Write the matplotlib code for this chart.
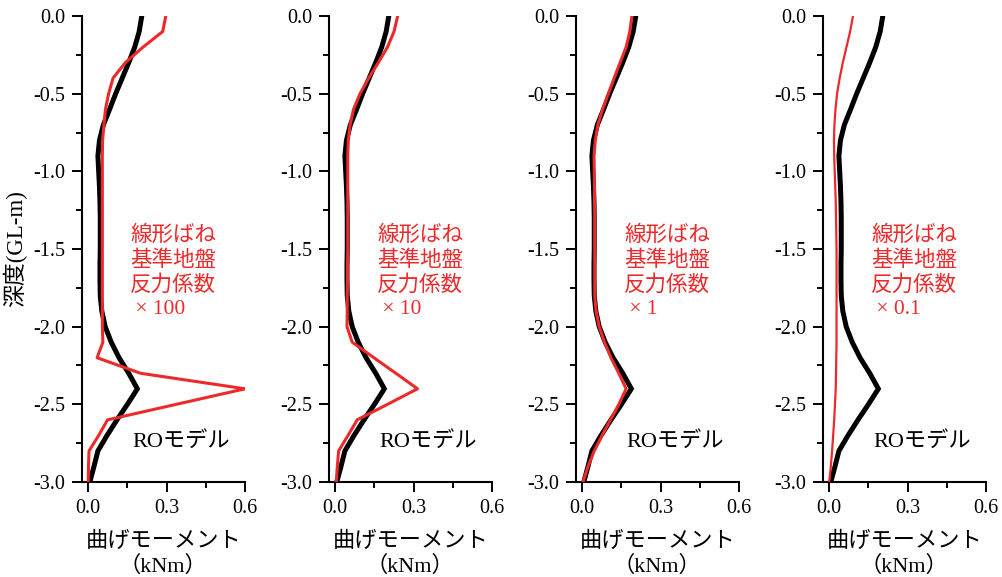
import matplotlib
matplotlib.use('Agg')
import matplotlib.pyplot as plt
from matplotlib.ticker import MultipleLocator, FormatStrFormatter

plt.rcParams['font.family'] = ['Liberation Serif', 'Noto Sans CJK JP']
plt.rcParams['axes.unicode_minus'] = False

# ---- data ----
depth = [0.0, -0.1, -0.2, -0.3, -0.4, -0.5, -0.6, -0.7, -0.8, -0.9,
         -1.0, -1.1, -1.2, -1.3, -1.4, -1.5, -1.6, -1.7, -1.8, -1.9,
         -2.0, -2.1, -2.2, -2.3, -2.4, -2.5, -2.6, -2.7, -2.8, -2.9, -3.0]

ro_model = [0.205, 0.195, 0.178, 0.155, 0.130, 0.105, 0.082, 0.058, 0.043, 0.037,
            0.040, 0.043, 0.045, 0.046, 0.046, 0.046, 0.045, 0.045, 0.046, 0.052,
            0.065, 0.088, 0.118, 0.155, 0.188, 0.150, 0.110, 0.072, 0.037, 0.022, 0.006]

linear_x100 = [0.297, 0.285, 0.210, 0.142, 0.095, 0.078, 0.066, 0.060, 0.055, 0.054,
               0.054, 0.054, 0.054, 0.054, 0.054, 0.054, 0.054, 0.054, 0.054, 0.054,
               0.054, 0.056, 0.034, 0.200, 0.600, 0.337, 0.074, 0.040, 0.003, 0.001, 0.000]

linear_x10 = [0.239, 0.225, 0.200, 0.165, 0.128, 0.095, 0.070, 0.057, 0.050, 0.048,
              0.048, 0.048, 0.048, 0.048, 0.048, 0.048, 0.047, 0.047, 0.046, 0.046,
              0.045, 0.065, 0.148, 0.232, 0.315, 0.200, 0.084, 0.049, 0.013, 0.008, 0.004]

linear_x1 = [0.190, 0.182, 0.168, 0.145, 0.122, 0.100, 0.078, 0.060, 0.050, 0.045,
             0.046, 0.047, 0.047, 0.048, 0.048, 0.048, 0.048, 0.048, 0.048, 0.053,
             0.065, 0.085, 0.110, 0.140, 0.168, 0.140, 0.108, 0.076, 0.046, 0.022, 0.003]

linear_x01 = [0.091, 0.080, 0.066, 0.052, 0.040, 0.030, 0.024, 0.020, 0.018, 0.019,
              0.021, 0.023, 0.025, 0.026, 0.027, 0.028, 0.028, 0.028, 0.028, 0.028,
              0.028, 0.028, 0.027, 0.026, 0.025, 0.022, 0.019, 0.015, 0.011, 0.006, 0.000]

linear_series = [linear_x100, linear_x10, linear_x1, linear_x01]
factors = [' × 100', ' × 10', ' × 1', ' × 0.1']

ro_label = 'ROモデル'
linear_label = '線形ばね\n基準地盤\n反力係数\n'
xlabel = '曲げモーメント\n（kNm）'
ylabel = '深度(GL-m)'

xticks = [0.0, 0.3, 0.6]
yticks = [0.0, -0.5, -1.0, -1.5, -2.0, -2.5, -3.0]

# ---- figure ----
W, H = 1002, 577
fig = plt.figure(figsize=(W / 100, H / 100), dpi=100)

red = '#ec2a2b'
ax_w = 163.3 / W
ax_b = 1 - 482 / H
ax_h = (482 - 16) / H
red_lw = [2.2, 2.2, 2.2, 1.6]

for i, lin in enumerate(linear_series):
    left = (81.7 + 247 * i) / W
    ax = fig.add_axes([left, ax_b, ax_w, ax_h])
    ax.plot(ro_model, depth, color='black', lw=3.6, solid_joinstyle='miter', zorder=2)
    ax.plot(lin, depth, color=red, lw=red_lw[i], zorder=3)
    ax.set_xlim(-0.025, 0.6)
    ax.set_ylim(-3.0, 0.0)
    for s in ['top', 'right']:
        ax.spines[s].set_visible(False)
    for s in ['left', 'bottom']:
        ax.spines[s].set_linewidth(1.5)
    ax.set_xticks(xticks)
    ax.set_yticks(yticks)
    ax.xaxis.set_minor_locator(MultipleLocator(0.15))
    ax.yaxis.set_minor_locator(MultipleLocator(0.25))
    ax.xaxis.set_major_formatter(FormatStrFormatter('%.1f'))
    ax.yaxis.set_major_formatter(FormatStrFormatter('%.1f'))
    ax.tick_params(which='major', direction='out', length=7, width=1.4, labelsize=14.5, pad=5)
    ax.tick_params(which='minor', direction='out', length=4, width=1.4)
    ax.set_xlabel(xlabel, fontsize=16, linespacing=1.25, labelpad=10)
    if i == 0:
        ax.set_ylabel(ylabel, fontsize=16.5, labelpad=4)
    ax.text(0.16, -1.65, linear_label + factors[i], color=red, fontsize=15.5,
            ha='left', va='center', linespacing=1.3)
    ax.text(0.17, -2.74, ro_label, color='black', fontsize=16, ha='left', va='center')

fig.savefig('out.png', dpi=100)
